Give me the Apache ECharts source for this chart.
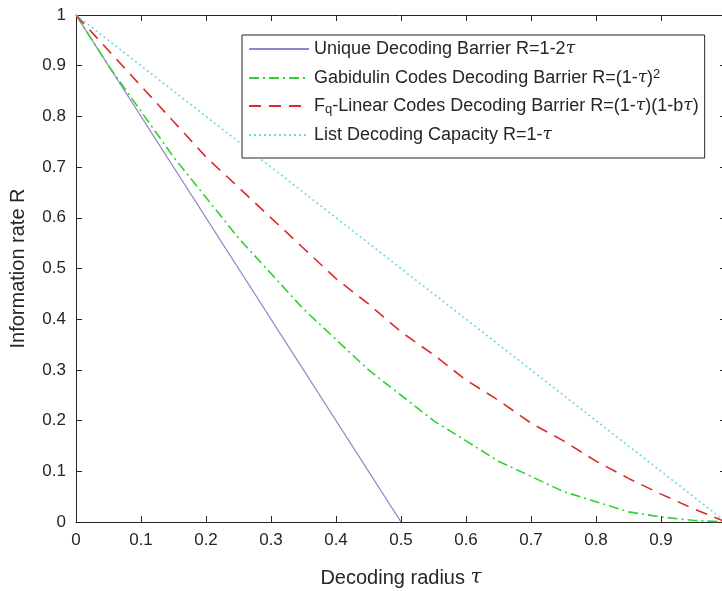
<!DOCTYPE html>
<html>
<head>
<meta charset="utf-8">
<script src="https://cdn.jsdelivr.net/npm/echarts@6/dist/echarts.min.js"></script>
<style>
  html, body { margin: 0; padding: 0; background: #fff; }
  #chart { width: 722px; height: 591px; }
</style>
</head>
<body>
<div id="chart"></div>
<script>
// values
var uniqueTau = [0, 0.5];
var uniqueR = [1, 0];

var curveTau = [0, 0.05, 0.1, 0.15, 0.2, 0.25, 0.3, 0.35, 0.4, 0.45, 0.5,
                0.55, 0.6, 0.65, 0.7, 0.75, 0.8, 0.85, 0.9, 0.95, 1];
var gabidulinR = [1, 0.90, 0.81, 0.72, 0.64, 0.56, 0.49, 0.42, 0.36, 0.30, 0.25,
                  0.20, 0.16, 0.12, 0.09, 0.06, 0.04, 0.02, 0.01, 0.003, 0];
var fqLinearR = [1, 0.93, 0.86, 0.79, 0.72, 0.66, 0.60, 0.54, 0.48, 0.43, 0.375,
                 0.33, 0.28, 0.24, 0.195, 0.16, 0.12, 0.086, 0.055, 0.026, 0];

var listTau = [0, 1];
var listR = [1, 0];

var xTicks = ['0', '0.1', '0.2', '0.3', '0.4', '0.5', '0.6', '0.7', '0.8', '0.9', '1'];
var yTicks = ['0', '0.1', '0.2', '0.3', '0.4', '0.5', '0.6', '0.7', '0.8', '0.9', '1'];

var names = [
  'Unique Decoding Barrier R=1-2τ',
  'Gabidulin Codes Decoding Barrier R=(1-τ)^2',
  'Fq-Linear Codes Decoding Barrier R=(1-τ)(1-bτ)',
  'List Decoding Capacity R=1-τ'
];

var pairs = function(xs, ys){
  var out = [];
  for (var i = 0; i < xs.length; i++) out.push([xs[i], ys[i]]);
  return out;
};

var ink = '#262626';
var font = 'Liberation Sans, Arial, sans-serif';
var greek = 'DejaVu Serif, serif';

var chart = echarts.init(document.getElementById('chart'));

var tickFmt = function(list){
  return function(v){
    var i = Math.round(v * 10);
    return list[i] !== undefined ? list[i] : '';
  };
};

// wrap tau in its own italic style
var tau = function(s){
  return s.replace(/τ/g, '}{tau|τ}{a|');
};

var option = {
  animation: false,
  backgroundColor: '#fff',
  grid: { left: 76, top: 15, right: -4, bottom: 69, containLabel: false, outerBoundsMode: 'none' },
  xAxis: [
    {
      type: 'value', min: 0, max: 1, interval: 0.1,
      name: '{n|Decoding radius }{t|τ}', nameLocation: 'middle', nameGap: 46,
      nameTextStyle: {
        fontSize: 20, color: ink, fontFamily: font,
        rich: {
          n: { fontSize: 20, color: ink, fontFamily: font },
          t: { fontSize: 20, color: ink, fontFamily: greek, fontStyle: 'italic' }
        }
      },
      axisLine: { show: true, onZero: false, lineStyle: { color: ink, width: 1 } },
      axisTick: { show: true, inside: true, length: 6, lineStyle: { color: ink } },
      axisLabel: { fontSize: 17, color: ink, fontFamily: font, margin: 10, formatter: tickFmt(xTicks) },
      splitLine: { show: false }
    },
    {
      type: 'value', min: 0, max: 1, interval: 0.1, position: 'top',
      axisLine: { show: true, onZero: false, lineStyle: { color: ink, width: 1 } },
      axisTick: { show: true, inside: true, length: 6, lineStyle: { color: ink } },
      axisLabel: { show: false },
      splitLine: { show: false }
    }
  ],
  yAxis: [
    {
      type: 'value', min: 0, max: 1, interval: 0.1,
      name: 'Information rate R', nameLocation: 'middle', nameGap: 48,
      nameTextStyle: { fontSize: 20, color: ink, fontFamily: font },
      axisLine: { show: true, onZero: false, lineStyle: { color: ink, width: 1 } },
      axisTick: { show: true, inside: true, length: 6, lineStyle: { color: ink } },
      axisLabel: { fontSize: 17, color: ink, fontFamily: font, margin: 10, formatter: tickFmt(yTicks) },
      splitLine: { show: false }
    },
    {
      type: 'value', min: 0, max: 1, interval: 0.1, position: 'right',
      axisLine: { show: true, onZero: false, lineStyle: { color: ink, width: 1 } },
      axisTick: { show: true, inside: true, length: 6, lineStyle: { color: ink } },
      axisLabel: { show: false },
      splitLine: { show: false }
    }
  ],
  legend: {
    orient: 'vertical',
    left: 242, top: 35,
    padding: [5, 6, 14, 6],
    itemWidth: 60, itemHeight: 20, itemGap: 10,
    backgroundColor: '#fff',
    borderColor: ink, borderWidth: 1,
    itemStyle: { opacity: 0 },
    data: names,
    formatter: function(name){
      if (name === names[1]) return '{a|' + tau('Gabidulin Codes Decoding Barrier R=(1-τ)') + '}{sup|2}';
      if (name === names[2]) return '{a|F}{sub|q}{a|' + tau('-Linear Codes Decoding Barrier R=(1-τ)(1-bτ)') + '}';
      return '{a|' + tau(name) + '}';
    },
    textStyle: {
      fontSize: 18, color: ink, fontFamily: font,
      rich: {
        a: { fontSize: 18, color: ink, fontFamily: font, lineHeight: 20, verticalAlign: 'middle' },
        tau: { fontSize: 17, color: ink, fontFamily: greek, fontStyle: 'italic', lineHeight: 20, verticalAlign: 'middle' },
        sup: { fontSize: 13, color: ink, fontFamily: font, lineHeight: 8, verticalAlign: 'top' },
        sub: { fontSize: 13, color: ink, fontFamily: font, lineHeight: 8, verticalAlign: 'bottom' }
      }
    }
  },
  series: [
    {
      name: names[0], type: 'line', symbol: 'none',
      data: pairs(uniqueTau, uniqueR),
      lineStyle: { color: '#8f87c4', width: 1.3, type: 'solid' },
      itemStyle: { color: '#8f87c4' }
    },
    {
      name: names[1], type: 'line', symbol: 'none',
      data: pairs(curveTau, gabidulinR),
      lineStyle: { color: '#2fd22f', width: 1.6, type: [10, 4, 2, 4] },
      itemStyle: { color: '#2fd22f' }
    },
    {
      name: names[2], type: 'line', symbol: 'none',
      data: pairs(curveTau, fqLinearR),
      lineStyle: { color: '#dc2a2e', width: 1.6, type: [12, 8] },
      itemStyle: { color: '#dc2a2e' }
    },
    {
      name: names[3], type: 'line', symbol: 'none',
      data: pairs(listTau, listR),
      lineStyle: { color: '#6fd6e8', width: 1.6, type: [2, 3] },
      itemStyle: { color: '#6fd6e8' }
    }
  ]
};

chart.setOption(option);
</script>
</body>
</html>
